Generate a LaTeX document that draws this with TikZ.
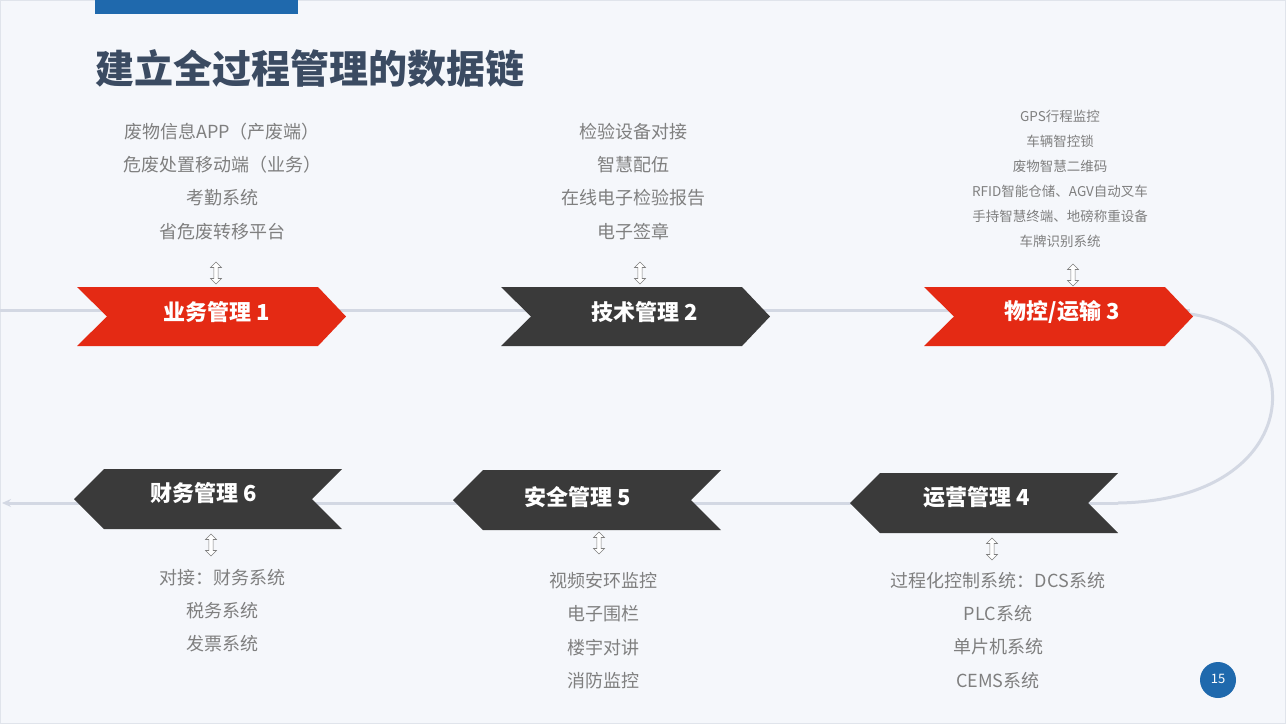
\documentclass[tikz,border=0pt]{standalone}
\usepackage{fontspec}
\setmainfont{Noto Sans CJK SC}
\newfontfamily\cjk{Noto Sans CJK SC}
\usetikzlibrary{shapes.arrows,arrows.meta}
\definecolor{bg}{HTML}{F5F7FB}
\definecolor{redc}{HTML}{E42A14}
\definecolor{darkc}{HTML}{3A3A3A}
\definecolor{linec}{HTML}{D3D8E3}
\definecolor{titlec}{HTML}{3B4B62}
\definecolor{bluec}{HTML}{1F69AD}
\definecolor{txtc}{HTML}{7F7F7F}
\tikzset{
 info/.style={text=txtc,font=\fontsize{18}{18}\selectfont,anchor=center,inner sep=0},
 infos/.style={text=txtc,font=\fontsize{13.5}{14}\selectfont,anchor=center,inner sep=0},
 lab/.style={text=white,font=\fontsize{22}{22}\selectfont\bfseries,inner sep=0},
 dbl/.style={double arrow,double arrow head extend=2.5pt,minimum height=22pt,minimum width=11pt,inner sep=1.2pt,draw=txtc,fill=white,rotate=90,line width=0.6pt}
}
\begin{document}
\begin{tikzpicture}[x=1pt,y=-1pt]
\useasboundingbox (0,0) rectangle (1286,724);
\fill[bg] (0,0) rectangle (1286,724);
\draw[linec!70,line width=1pt] (0.5,0.5) rectangle (1285.5,723.5);
\fill[bluec] (95,0) rectangle (298,14);
\node[anchor=west,text=titlec,font=\fontsize{39}{39}\selectfont\bfseries,inner sep=0] (title) at (95,68) {建立全过程管理的数据链};
% lines
\draw[linec,line width=3pt] (0,310) -- (1190,310);
\draw[linec,line width=3pt] (1190,314) .. controls (1310,330) and (1310,500) .. (1118,503);
\draw[linec,line width=3pt,-{Stealth[length=9pt,width=8pt]}] (1118,503) -- (2,503);
% chevrons top
\newcommand\chevR[4]{\fill[#4] (#1,#2) -- (#1+241,#2) -- (#1+269,#2+29.5) -- (#1+241,#2+59) -- (#1,#2+59) -- (#1+30,#2+29.5) -- cycle;}
\newcommand\chevL[4]{\fill[#4] (#1,#2+30) -- (#1+30,#2) -- (#1+268,#2) -- (#1+238,#2+30) -- (#1+268,#2+60) -- (#1+30,#2+60) -- cycle;}
\chevR{77}{287}{}{redc}
\chevR{501}{287}{}{darkc}
\chevR{924}{287}{}{redc}
\chevL{74}{469}{}{darkc}
\chevL{453}{470}{}{darkc}
\chevL{850}{473}{}{darkc}
\node[lab] (n1) at (217,312) {业务管理 1};
\node[lab] (n2) at (645,312) {技术管理 2};
\node[lab] (n3) at (1062,312) {物控/运输 3};
\node[lab] (n6) at (204,493) {财务管理 6};
\node[lab] (n5) at (578,497) {安全管理 5};
\node[lab] (n4) at (977,497) {运营管理 4};
% arrows
\node[dbl] (d1) at (216,273) {};
\node[dbl] (d2) at (640,273) {};
\node[dbl] (d3) at (1073,275) {};
\node[dbl] (d6) at (211,545) {};
\node[dbl] (d5) at (599,543) {};
\node[dbl] (d4) at (992,549) {};
% texts
\node[info] (a1) at (222,132) {废物信息APP（产废端）};
\node[info] (a2) at (222,165) {危废处置移动端（业务）};
\node[info] (a3) at (222,198) {考勤系统};
\node[info] (a4) at (222,232) {省危废转移平台};
\node[info] (b1) at (633,132) {检验设备对接};
\node[info] (b2) at (633,165) {智慧配伍};
\node[info] (b3) at (633,198) {在线电子检验报告};
\node[info] (b4) at (633,232) {电子签章};
\node[infos] (c1) at (1060,116) {GPS行程监控};
\node[infos] (c2) at (1060,141) {车辆智控锁};
\node[infos] (c3) at (1060,166) {废物智慧二维码};
\node[infos] (c4) at (1060,191) {RFID智能仓储、AGV自动叉车};
\node[infos] (c5) at (1060,216) {手持智慧终端、地磅称重设备};
\node[infos] (c6) at (1060,241) {车牌识别系统};
\node[info] (f1) at (222,578) {对接：财务系统};
\node[info] (f2) at (222,611) {税务系统};
\node[info] (f3) at (222,644) {发票系统};
\node[info] (e1) at (603,581) {视频安环监控};
\node[info] (e2) at (603,614) {电子围栏};
\node[info] (e3) at (603,648) {楼宇对讲};
\node[info] (e4) at (603,681) {消防监控};
\node[info] (g1) at (998,581) {过程化控制系统：DCS系统};
\node[info] (g2) at (998,614) {PLC系统};
\node[info] (g3) at (998,647) {单片机系统};
\node[info] (g4) at (998,681) {CEMS系统};
\fill[bluec] (1218,680) circle (18);
\node[text=white,font=\fontsize{13}{13}\selectfont] (pg) at (1218,679) {15};
\end{tikzpicture}
\end{document}
